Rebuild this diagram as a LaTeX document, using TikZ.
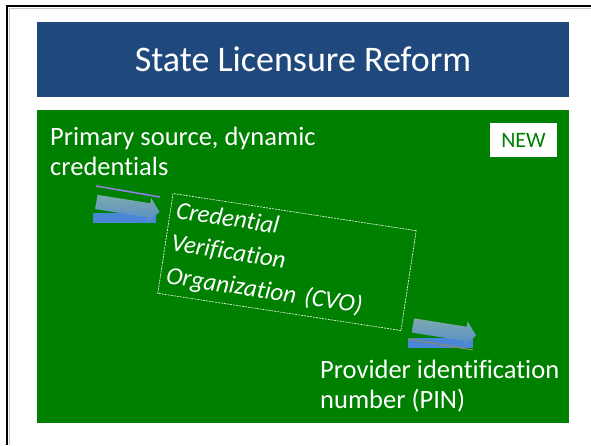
\documentclass[tikz,border=0pt]{standalone}
\usepackage{fontspec}
\setmainfont{Carlito}[Ligatures=NoCommon]
\usetikzlibrary{shapes.arrows,positioning}
\definecolor{titleblue}{RGB}{31,73,125}
\definecolor{slidegreen}{RGB}{0,128,0}
\definecolor{barblue}{RGB}{74,134,214}
\definecolor{arrowtop}{RGB}{125,170,172}
\definecolor{arrowbot}{RGB}{86,140,204}
\definecolor{rimlilac}{RGB}{150,130,235}
\definecolor{rimolive}{RGB}{150,140,90}
\tikzset{
  panel/.style={rectangle, inner sep=0pt, outer sep=0pt, anchor=north west},
  bodytext/.style={text=white, font=\fontsize{26.5}{30}\selectfont, align=left, inner sep=0pt, anchor=north west},
  flowarrow/.style={single arrow, minimum height=64pt, inner sep=7pt, single arrow head extend=5.5pt, single arrow tip angle=100, top color=arrowtop, bottom color=arrowbot, rotate=-9},
  bar/.style={fill=barblue, inner sep=0pt, minimum height=10pt}
}

\begin{document}
\begin{tikzpicture}[x=1pt,y=-1pt]
  \useasboundingbox (0,0) rectangle (591,445);
  \fill[white] (0,0) rectangle (591,445);
  % slide edge
  \draw[gray!45, line width=1pt] (9.5,445) -- (9.5,8.5) -- (591,8.5);
  \draw[black, line width=2pt] (7,445) -- (7,6) -- (591,6);
  % title and body panels
  \node (title) [panel, fill=titleblue, minimum width=532pt, minimum height=75pt] at (37,22) {};
  \node [text=white, font=\fontsize{36}{36}\selectfont] at (title.center) {State Licensure Reform};
  \node (body) [panel, fill=slidegreen, minimum width=532pt, minimum height=313pt] at (37,110) {};
  \node (new) [fill=white, minimum width=67pt, minimum height=34pt, text=slidegreen, font=\fontsize{22}{22}\selectfont] at (523.5,140) {NEW};
  % texts
  \node (source) [bodytext] at (50,127) {Primary source, dynamic\\credentials};
  \node (pin) [bodytext] at (320,360) {Provider identification\\number (PIN)};
  \node (cvo) [draw=white, line width=0.6pt, dash pattern=on 2pt off 1pt, rotate=-8.7,
    text=white, font=\itshape\fontsize{25}{33}\selectfont, align=left, text width=234pt,
    inner xsep=6pt, inner ysep=3pt, minimum height=101pt] at (287,262)
    {Credential\\Verification\\Organization (CVO)};
  % arrow into the CVO
  \node (bar1) [bar, minimum width=63pt] at (124.5,218) {};
  \node (arrow1) [flowarrow] at (125,206.5) {};
  \coordinate (rim1a) at (96,186);
  \coordinate (rim1b) at (160,197);
  \draw[rimlilac, line width=1.5pt] (rim1a) -- (rim1b);
  % arrow out of the CVO
  \node (bar2) [bar, minimum width=65pt] at (440.5,343) {};
  \node (arrow2) [flowarrow] at (441.5,330) {};
  \coordinate (rim2a) at (408,339);
  \coordinate (rim2b) at (473,350);
  \draw[rimolive, line width=1pt] (rim2a) -- (rim2b);
\end{tikzpicture}
\end{document}
